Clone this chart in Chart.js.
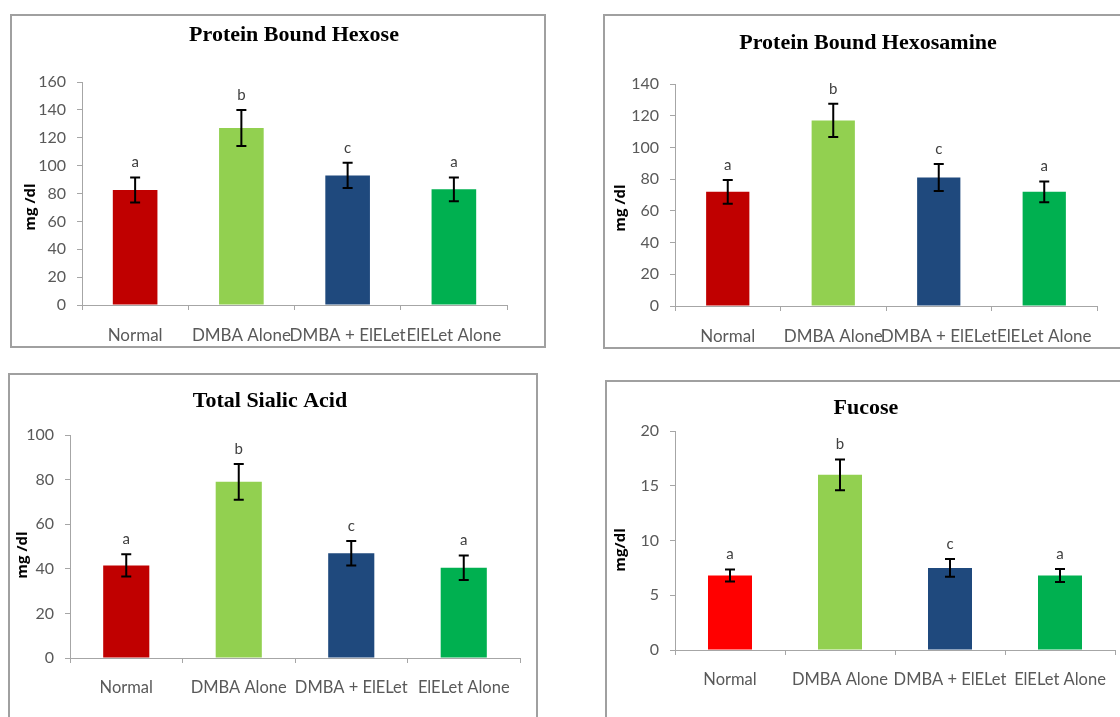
<!DOCTYPE html>
<html>
<head>
<meta charset="utf-8">
<script src="https://cdn.jsdelivr.net/npm/chart.js@4"></script>
<style>
    html, body { margin: 0; padding: 0; background: #fff; }
    body { width: 1120px; height: 717px; position: relative; overflow: hidden; }
    .panel { position: absolute; border: 2px solid #a0a0a0; background: #fff; }
    .panel canvas { position: absolute; left: 0; top: 0; }
</style>
</head>
<body>
<div class="panel" id="p1" style="left:10px;top:14px;width:532px;height:330px;"><canvas id="c1"></canvas></div>
<div class="panel" id="p2" style="left:603px;top:14px;width:536px;height:331px;"><canvas id="c2"></canvas></div>
<div class="panel" id="p3" style="left:8px;top:373px;width:526px;height:356px;"><canvas id="c3"></canvas></div>
<div class="panel" id="p4" style="left:605px;top:380px;width:536px;height:356px;"><canvas id="c4"></canvas></div>

<script>
// Group labels and significance letters
const categories = ['Normal', 'DMBA Alone', 'DMBA + ElELet', 'ElELet Alone'];
const letters = ['a', 'b', 'c', 'a'];

// Protein bound hexose (mg/dl)
const hexoseMeans = [82.5, 127, 93, 83];
const hexoseErrors = [9, 13, 9, 8.5];
const hexoseTicks = [0, 20, 40, 60, 80, 100, 120, 140, 160];

// Protein bound hexosamine (mg/dl)
const hexosamineMeans = [72, 117, 81, 72];
const hexosamineErrors = [7.5, 10.5, 8.5, 6.5];
const hexosamineTicks = [0, 20, 40, 60, 80, 100, 120, 140];

// Total sialic acid (mg/dl)
const sialicMeans = [41.5, 79, 47, 40.5];
const sialicErrors = [5, 8, 5.5, 5.5];
const sialicTicks = [0, 20, 40, 60, 80, 100];

// Fucose (mg/dl)
const fucoseMeans = [6.8, 16, 7.5, 6.8];
const fucoseErrors = [0.55, 1.4, 0.8, 0.6];
const fucoseTicks = [0, 5, 10, 15, 20];

const barColors = ['#C00000', '#92D050', '#1F497D', '#00B050'];
const fucoseColors = ['#FF0000', '#92D050', '#1F497D', '#00B050'];

const sansFamily = 'Lato, "Open Sans", sans-serif';

// draws error bars, letters, the title and the y axis title
const annotatePlugin = {
    id: 'annotate',
    afterDatasetsDraw(chart) {
        const ctx = chart.ctx;
        const o = chart.options.plugins.annotate;
        const x = chart.scales.x;
        const y = chart.scales.y;
        const means = chart.data.datasets[0].data;

        ctx.save();
        ctx.strokeStyle = '#000';
        ctx.lineWidth = 2;
        means.forEach((m, i) => {
            const cx = x.getPixelForValue(i);
            const top = y.getPixelForValue(m + o.errors[i]);
            const bot = y.getPixelForValue(m - o.errors[i]);
            ctx.beginPath();
            ctx.moveTo(cx, top); ctx.lineTo(cx, bot);
            ctx.moveTo(cx - 5, top); ctx.lineTo(cx + 5, top);
            ctx.moveTo(cx - 5, bot); ctx.lineTo(cx + 5, bot);
            ctx.stroke();

            ctx.fillStyle = '#404040';
            ctx.font = '15px ' + sansFamily;
            ctx.textAlign = 'center';
            ctx.textBaseline = 'middle';
            ctx.fillText(letters[i], cx, top - 15);
        });

        ctx.fillStyle = '#000';
        ctx.font = 'bold 22px "Liberation Serif", "Times New Roman", serif';
        ctx.textAlign = 'center';
        ctx.textBaseline = 'middle';
        ctx.fillText(o.title, o.titleX, o.titleY);

        ctx.translate(o.axisX, o.axisY);
        ctx.rotate(-Math.PI / 2);
        ctx.font = 'bold 15px "Open Sans", sans-serif';
        ctx.fillText(o.axisTitle, 0, 0);
        ctx.restore();
    }
};

function makeChart(id, panelId, cfg) {
    const panel = document.getElementById(panelId);
    const canvas = document.getElementById(id);
    canvas.width = panel.clientWidth;
    canvas.height = panel.clientHeight;

    return new Chart(canvas, {
        type: 'bar',
        data: {
            labels: categories,
            datasets: [{
                data: cfg.means,
                backgroundColor: cfg.colors,
                borderWidth: 0,
                barPercentage: cfg.barPct,
                categoryPercentage: 1
            }]
        },
        options: {
            responsive: false,
            animation: false,
            layout: { padding: { left: 0, right: cfg.padRight, top: cfg.padTop, bottom: 0 } },
            plugins: {
                legend: { display: false },
                tooltip: { enabled: false },
                annotate: {
                    errors: cfg.errors,
                    title: cfg.title,
                    titleX: cfg.titleX,
                    titleY: cfg.titleY,
                    axisTitle: cfg.axisTitle,
                    axisX: cfg.axisX,
                    axisY: cfg.axisY
                }
            },
            scales: {
                x: {
                    offset: true,
                    grid: { offset: true, drawOnChartArea: false, color: '#a6a6a6', tickLength: 5 },
                    border: { color: '#a6a6a6' },
                    ticks: {
                        color: '#595959',
                        font: { family: sansFamily, size: cfg.xFont },
                        maxRotation: 0, autoSkip: false, padding: 15
                    },
                    afterFit(scale) { scale.height = cfg.xHeight; }
                },
                y: {
                    min: 0,
                    max: cfg.ticks[cfg.ticks.length - 1],
                    afterBuildTicks(scale) { scale.ticks = cfg.ticks.map(v => ({ value: v })); },
                    grid: { drawOnChartArea: false, color: '#a6a6a6', tickLength: 5 },
                    border: { color: '#a6a6a6' },
                    ticks: { color: '#595959', font: { family: sansFamily, size: 16 }, padding: 11 },
                    afterFit(scale) { scale.width = cfg.yWidth; }
                }
            }
        },
        plugins: [annotatePlugin]
    });
}

makeChart('c1', 'p1', {
    means: hexoseMeans, errors: hexoseErrors, ticks: hexoseTicks, colors: barColors,
    title: 'Protein Bound Hexose', axisTitle: 'mg /dl',
    barPct: 0.42, yWidth: 70, padRight: 37, padTop: 66, xHeight: 41, xFont: 17,
    titleX: 282, titleY: 19, axisX: 19, axisY: 191
});

makeChart('c2', 'p2', {
    means: hexosamineMeans, errors: hexosamineErrors, ticks: hexosamineTicks, colors: barColors,
    title: 'Protein Bound Hexosamine', axisTitle: 'mg /dl',
    barPct: 0.41, yWidth: 70, padRight: 44, padTop: 68, xHeight: 41, xFont: 17,
    titleX: 263, titleY: 27, axisX: 16, axisY: 192
});

makeChart('c3', 'p3', {
    means: sialicMeans, errors: sialicErrors, ticks: sialicTicks, colors: barColors,
    title: 'Total Sialic Acid', axisTitle: 'mg /dl',
    barPct: 0.41, yWidth: 60, padRight: 16, padTop: 60, xHeight: 73, xFont: 16.5,
    titleX: 260, titleY: 26, axisX: 13, axisY: 180
});

makeChart('c4', 'p4', {
    means: fucoseMeans, errors: fucoseErrors, ticks: fucoseTicks, colors: fucoseColors,
    title: 'Fucose', axisTitle: 'mg/dl',
    barPct: 0.4, yWidth: 68, padRight: 28, padTop: 49, xHeight: 88, xFont: 16.5,
    titleX: 259, titleY: 26, axisX: 14, axisY: 168
});
</script>
</body>
</html>
